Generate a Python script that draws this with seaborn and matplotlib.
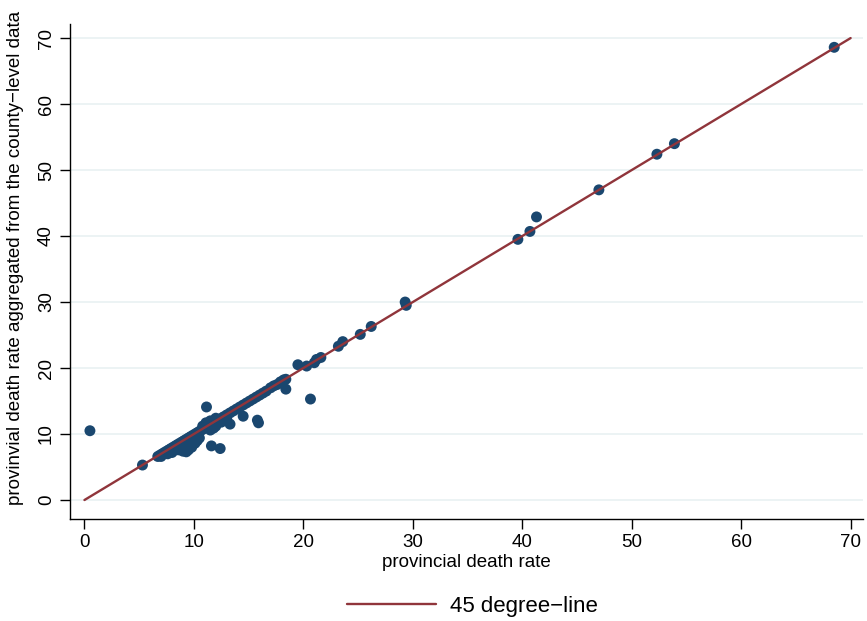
import matplotlib
matplotlib.use("Agg")
import matplotlib.pyplot as plt
import seaborn as sns
import pandas as pd

# provincial death rate (x) vs. rate aggregated from county-level data (y)
prov_rate = [
    0.5, 5.3,
    6.7, 6.9, 7.1, 7.3, 7.5, 7.7, 7.9, 8.1, 8.3, 8.5, 8.7, 8.9, 9.1, 9.3, 9.5,
    9.7, 9.9, 10.1, 10.3, 10.5, 10.7, 10.9, 11.1, 11.3, 11.5, 11.7, 11.9, 12.1,
    12.4, 12.7, 13.0, 13.3, 13.6, 13.9, 14.2, 14.5, 14.8, 15.1, 15.4, 15.7,
    16.0, 16.3, 16.6, 17.0, 17.3, 17.6, 17.9, 18.2, 18.4,
    7.0, 7.6, 8.0, 8.3, 8.6, 9.0, 9.0, 9.3, 9.5, 9.8, 10.1, 10.3, 10.5,
    10.8, 11.1, 11.5, 12.0, 11.5, 11.8, 12.0, 12.5, 13.0, 13.3,
    11.15, 11.6, 12.4, 14.5, 15.8, 15.9, 18.4, 20.65, 19.5,
    20.3, 21.0, 21.2, 21.6, 23.2, 23.6, 25.2, 26.2, 29.3, 29.4,
    39.6, 40.7, 41.3, 47.0, 52.3, 53.9, 68.5,
]
county_rate = [
    10.5, 5.3,
    6.6, 6.8, 7.0, 7.2, 7.4, 7.6, 7.8, 8.0, 8.2, 8.4, 8.6, 8.8, 9.0, 9.2, 9.4,
    9.6, 9.8, 10.0, 10.2, 10.4, 10.6, 10.8, 11.0, 11.2, 11.5, 11.7, 11.9, 12.1,
    12.3, 12.6, 12.9, 13.2, 13.5, 13.8, 14.1, 14.4, 14.7, 15.0, 15.3, 15.6,
    15.9, 16.2, 16.5, 17.0, 17.3, 17.5, 17.9, 18.2, 18.3,
    6.6, 7.0, 7.2, 7.6, 7.6, 7.4, 8.2, 7.3, 7.6, 8.0, 8.6, 9.0, 9.4,
    11.2, 11.7, 12.0, 12.4, 10.6, 10.9, 11.2, 11.8, 12.2, 11.5,
    14.1, 8.2, 7.8, 12.7, 12.1, 11.7, 16.8, 15.3, 20.5,
    20.3, 20.8, 21.3, 21.6, 23.3, 24.0, 25.1, 26.3, 30.0, 29.5,
    39.5, 40.7, 42.9, 47.0, 52.4, 54.0, 68.6,
]
line_x = [0, 70]
line_y = [0, 70]
ticks = [0, 10, 20, 30, 40, 50, 60, 70]

df = pd.DataFrame({"prov": prov_rate, "county": county_rate})
line_df = pd.DataFrame({"x": line_x, "y": line_y})

sns.set_style("white")
plt.rcParams["font.family"] = ["Liberation Sans", "DejaVu Sans"]
plt.rcParams["text.color"] = "black"
plt.rcParams["axes.labelcolor"] = "black"
plt.rcParams["xtick.color"] = "black"
plt.rcParams["ytick.color"] = "black"

fig, ax = plt.subplots(figsize=(8.67, 6.21), dpi=100)
fig.subplots_adjust(left=0.081, right=0.995, bottom=0.164, top=0.961)

for t in ticks:
    ax.axhline(t, color="#eaf2f3", lw=1.3, zorder=0)

sns.scatterplot(data=df, x="prov", y="county", ax=ax, s=62, color="#1a476f",
                edgecolor="none", zorder=2, legend=False)
sns.lineplot(data=line_df, x="x", y="y", ax=ax, color="#90353b", lw=1.7,
             zorder=3, label="45 degree\u2212line", legend=False)

ax.set_xlim(-1.3, 71.1)
ax.set_ylim(-2.9, 72.1)
ax.set_xticks(ticks)
ax.set_yticks(ticks)
ax.tick_params(axis="both", direction="out", length=7, width=1, color="black",
               labelsize=13.5, pad=4, left=True, bottom=True)
plt.setp(ax.get_yticklabels(), rotation=90, va="center")
ax.set_xlabel("provincial death rate", fontsize=13.5, labelpad=2)
ax.set_ylabel("provinvial death rate aggregated from the county\u2212level data",
              fontsize=13.5)
ax.yaxis.set_label_coords(-0.058, 0.528)

for side in ["top", "right"]:
    ax.spines[side].set_visible(False)
for side in ["left", "bottom"]:
    ax.spines[side].set_color("black")
    ax.spines[side].set_linewidth(1)

handles, labels = ax.get_legend_handles_labels()
fig.legend(handles, labels, loc="lower center", bbox_to_anchor=(0.545, -0.025),
           frameon=False, fontsize=16, handlelength=4.0, handletextpad=0.6)

plt.savefig("out.png", dpi=100)
